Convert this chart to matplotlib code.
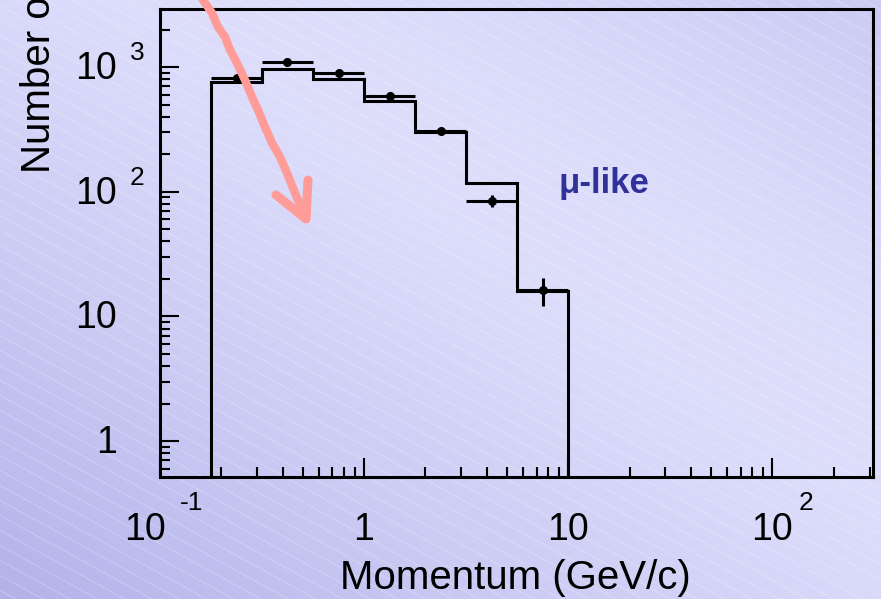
import numpy as np
import matplotlib
matplotlib.use('Agg')
import matplotlib.pyplot as plt
from matplotlib import transforms as mtransforms
from matplotlib.collections import LineCollection
from matplotlib.ticker import LogLocator, NullFormatter, FixedLocator

# ---------------- data ----------------
bin_edges = [0.178, 0.316, 0.562, 1.0, 1.78, 3.16, 5.62, 10.0]
mc_counts = [755, 964, 797, 535, 301, 117, 16.0]
data_counts = [821, 1102, 890, 586, 308, 85, 16.3]
data_errors = [29, 33, 30, 24, 18, 10, 4.2]

x_tick_values = [0.1, 1, 10, 100]
x_tick_bases = ["10", "1", "10", "10"]
x_tick_exps = ["-1", "", "", "2"]
y_tick_values = [1, 10, 100, 1000]
y_tick_bases = ["1", "10", "10", "10"]
y_tick_exps = ["", "", "2", "3"]

x_label = "Momentum (GeV/c)"
y_label = "Number of events"
sample_label = "\u03bc-like"

# hand-drawn annotation arrow (figure pixels, y downward)
arrow_shaft = [(198, -8), (203, 0), (212, 13), (218, 27), (225, 37), (230, 50),
               (237, 63), (245, 80), (252, 97), (258, 110), (265, 127),
               (272, 143), (280, 157), (287, 173), (295, 193), (306, 219)]
arrow_head = [(276, 195), (306, 219), (308, 180)]

W, H = 881, 599
FONT = 'Liberation Sans'
plt.rcParams['font.family'] = [FONT, 'DejaVu Sans']

fig = plt.figure(figsize=(W / 100, H / 100), dpi=100)

# ---------------- background ----------------
bg = fig.add_axes([0, 0, 1, 1], zorder=-10)
bg.set_xlim(0, W)
bg.set_ylim(H, 0)
bg.axis('off')
yy, xx = np.mgrid[0:H, 0:W]
s = (xx / W + (H - yy) / H) / 2.0          # 0 at bottom-left, 1 at top-right
t = np.where(s < 0.62, ((0.62 - s) / 0.62) ** 1.3, 0.45 * ((s - 0.62) / 0.38) ** 1.5)
light = np.array([222, 222, 252]) / 255.0
dark = np.array([178, 178, 234]) / 255.0
img = light[None, None, :] * (1 - t[..., None]) + dark[None, None, :] * t[..., None]
bg.imshow(img, extent=(0, W, H, 0), aspect='auto', interpolation='bilinear')
slope = 0.55
segs = []
for y0 in np.arange(-slope * W - 20, H + 20, 15):
    segs.append([(0, y0), (W, y0 + slope * W)])
bg.add_collection(LineCollection(segs, colors='white', linewidths=0.7, alpha=0.25))

# ---------------- main axes ----------------
left, right, top, bottom = 160, 873, 8.5, 476.5
ax = fig.add_axes([left / W, 1 - bottom / H, (right - left) / W, (bottom - top) / H])
ax.patch.set_alpha(0)
ax.set_xscale('log')
ax.set_yscale('log')
ax.set_xlim(0.1, 312)
ax.set_ylim(0.52, 2950)

edges = np.array(bin_edges)
centers = np.sqrt(edges[:-1] * edges[1:])
ax.stairs(mc_counts, edges, baseline=0.01, color='black', linewidth=2.2)
ax.errorbar(centers, data_counts,
            xerr=[centers - edges[:-1], edges[1:] - centers],
            yerr=data_errors, fmt='o', color='black', markersize=5.5,
            elinewidth=2.2, capsize=0)

for sp in ax.spines.values():
    sp.set_linewidth(2.2)
ax.xaxis.set_major_locator(FixedLocator(x_tick_values))
ax.yaxis.set_major_locator(FixedLocator(y_tick_values))
ax.xaxis.set_minor_locator(LogLocator(base=10, subs=np.arange(2, 10), numticks=20))
ax.yaxis.set_minor_locator(LogLocator(base=10, subs=np.arange(2, 10), numticks=20))
ax.xaxis.set_major_formatter(NullFormatter())
ax.yaxis.set_major_formatter(NullFormatter())
ax.xaxis.set_minor_formatter(NullFormatter())
ax.yaxis.set_minor_formatter(NullFormatter())
ax.tick_params(which='major', direction='in', length=13.5, width=1.5, top=False, right=False)
ax.tick_params(which='minor', direction='in', length=7, width=1.5, top=False, right=False)

# ---------------- tick labels ----------------
def off(dx, dy):
    return mtransforms.ScaledTranslation(dx / 100, -dy / 100, fig.dpi_scale_trans)

xtrans = ax.get_xaxis_transform()
x_base_dx = {0: -15, 3: 0}
x_exp_dx = {0: 20, 3: 26}
for i, (v, b, e) in enumerate(zip(x_tick_values, x_tick_bases, x_tick_exps)):
    ax.text(v, 0, b, transform=xtrans + off(x_base_dx.get(i, 0), 54),
            ha='center', va='center', fontsize=27, family=FONT, clip_on=False)
    if e:
        ax.text(v, 0, e, transform=xtrans + off(x_exp_dx[i], 27),
                ha='left', va='center', fontsize=19, family=FONT, clip_on=False)

ytrans = ax.get_yaxis_transform()
for v, b, e in zip(y_tick_values, y_tick_bases, y_tick_exps):
    ax.text(0, v, b, transform=ytrans + off(-43, 2),
            ha='right', va='center', fontsize=27, family=FONT, clip_on=False)
    if e:
        ax.text(0, v, e, transform=ytrans + off(-30, -14),
                ha='left', va='center', fontsize=19, family=FONT, clip_on=False)

fig.text(515 / W, 1 - 578 / H, x_label, ha='center', va='center',
         fontsize=29, family=FONT)
fig.text(39 / W, 1 - 173 / H, y_label, rotation=90, ha='center', va='bottom',
         fontsize=29, family=FONT)

ax.text(604 / W, 1 - 184 / H, sample_label, transform=fig.transFigure,
        ha='center', va='center', fontsize=25, fontweight='bold',
        color='#31319a', family=FONT)

# ---------------- overlay arrow ----------------
ov = fig.add_axes([0, 0, 1, 1], zorder=10)
ov.set_xlim(0, W)
ov.set_ylim(H, 0)
ov.axis('off')
ov.patch.set_alpha(0)
sx, sy = zip(*arrow_shaft)
ov.plot(sx, sy, color='#ff9c98', linewidth=6, solid_capstyle='round',
        solid_joinstyle='round', clip_on=False)
hx, hy = zip(*arrow_head)
ov.plot(hx, hy, color='#ff9c98', linewidth=6.5, solid_capstyle='round',
        solid_joinstyle='round', clip_on=False)

fig.savefig('out.png', dpi=100)
